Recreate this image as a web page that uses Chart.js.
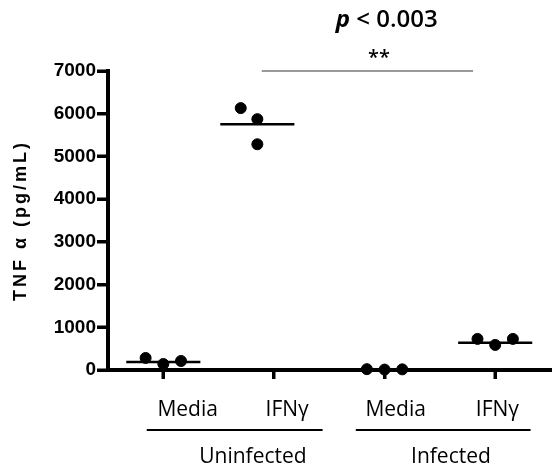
<!DOCTYPE html>
<html>
<head>
<meta charset="utf-8">
<script src="https://cdn.jsdelivr.net/npm/chart.js@4/dist/chart.umd.min.js"></script>
<style>
  html, body { margin: 0; padding: 0; background: #fff; }
  #wrap { width: 557px; height: 472px; }
</style>
</head>
<body>
<div id="wrap"><canvas id="tnfChart"></canvas></div>
<script>
// values (pg/mL)
const treatments = ['Media', 'IFNγ', 'Media', 'IFNγ'];
const infection = ['Uninfected', 'Infected'];
const uninfMedia = [282, 141, 211];
const uninfIFN = [6131, 5873, 5285];
const infMedia = [20, 10, 15];
const infIFN = [728, 587, 728];
const groupMeans = [190, 5755, 20, 640];
const yTicks = [0, 1000, 2000, 3000, 4000, 5000, 6000, 7000];
const yTitle = 'TNF α (pg/mL)';
const pText = 'p < 0.003';
const starsText = '**';

const groups = [uninfMedia, uninfIFN, infMedia, infIFN];
// where each group sits along x, and the spread of its dots
const centers = [0.5, 1.35, 2.5, 3.5];
const spread = [[-0.16, 0, 0.16], [-0.15, 0, 0], [-0.16, 0, 0.16], [-0.16, 0, 0.16]];
const xTickAt = [0.5, 1.5, 2.5, 3.5];

const datasets = [];
groups.forEach((vals, g) => {
  datasets.push({
    data: [
      { x: centers[g] - 0.335, y: groupMeans[g] },
      { x: centers[g] + 0.335, y: groupMeans[g] }
    ],
    showLine: true,
    borderColor: '#000',
    borderWidth: 2.5,
    pointRadius: 0,
    clip: false
  });
  datasets.push({
    data: vals.map((v, i) => ({ x: centers[g] + spread[g][i], y: v })),
    backgroundColor: '#000',
    borderColor: '#000',
    pointRadius: 5.5,
    clip: false
  });
});
// significance bar
datasets.push({
  data: [{ x: 1.39, y: 7000 }, { x: 3.3, y: 7000 }],
  showLine: true,
  borderColor: '#777',
  borderWidth: 1.5,
  pointRadius: 0,
  clip: false
});

const labelsPlugin = {
  id: 'labelsPlugin',
  afterDraw(chart) {
    const ctx = chart.ctx;
    const xs = chart.scales.x;
    const ys = chart.scales.y;
    const area = chart.chartArea;
    const bottom = area.bottom;
    ctx.save();
    // tick marks
    ctx.fillStyle = '#000';
    yTicks.forEach(v => {
      const py = Math.round(ys.getPixelForValue(v));
      ctx.fillRect(area.left - 11, py - 1.5, 11, 3);
    });
    xTickAt.forEach(v => {
      const px = Math.round(xs.getPixelForValue(v));
      ctx.fillRect(px - 1.5, bottom, 3, 9);
    });

    // y title, rotated
    ctx.save();
    ctx.translate(21, (area.top + area.bottom) / 2);
    ctx.rotate(-Math.PI / 2);
    ctx.font = 'bold 18px "Liberation Sans"';
    ctx.letterSpacing = '3px';
    ctx.textAlign = 'center';
    ctx.textBaseline = 'middle';
    ctx.fillText(yTitle, 0, 0);
    ctx.restore();

    ctx.textAlign = 'center';
    ctx.textBaseline = 'middle';
    ctx.font = '21px "Open Sans"';
    const labelAt = [0.72, 1.62, 2.6, 3.52];
    treatments.forEach((t, i) => ctx.fillText(t, xs.getPixelForValue(labelAt[i]), bottom + 40));
    const groupAt = [1.31, 3.1];
    const lineSpan = [[0.35, 1.94], [2.24, 3.82]];
    ctx.strokeStyle = '#000';
    infection.forEach((t, i) => {
      ctx.fillText(t, xs.getPixelForValue(groupAt[i]), bottom + 87);
      ctx.beginPath();
      ctx.lineWidth = 2;
      ctx.moveTo(xs.getPixelForValue(lineSpan[i][0]), bottom + 60);
      ctx.lineTo(xs.getPixelForValue(lineSpan[i][1]), bottom + 60);
      ctx.stroke();
    });
    // p-value and stars
    ctx.font = '600 20px "Open Sans"';
    ctx.fillText(starsText, xs.getPixelForValue(2.45), area.top - 13);
    const parts = pText.split(' ');
    const rest = ' ' + parts.slice(1).join(' ');
    ctx.font = 'italic 700 24px "Open Sans"';
    const pw = ctx.measureText(parts[0]).width;
    ctx.font = '600 24px "Open Sans"';
    const rw = ctx.measureText(rest).width;
    const cx = xs.getPixelForValue(2.52);
    const startX = cx - (pw + rw) / 2;
    ctx.textAlign = 'left';
    ctx.font = 'italic 700 24px "Open Sans"';
    ctx.fillText(parts[0], startX, 20);
    ctx.font = '600 24px "Open Sans"';
    ctx.fillText(rest, startX + pw, 20);
    ctx.restore();
  }
};

new Chart(document.getElementById('tnfChart'), {
  type: 'scatter',
  data: { datasets },
  options: {
    responsive: true,
    maintainAspectRatio: false,
    animation: false,
    layout: { padding: { top: 71, right: 2, left: 0, bottom: 0 } },
    plugins: { legend: { display: false }, tooltip: { enabled: false } },
    scales: {
      x: {
        type: 'linear',
        min: 0,
        max: 4,
        afterBuildTicks: s => { s.ticks = xTickAt.map(v => ({ value: v })); },
        afterFit: s => { s.height = 102; },
        ticks: { display: false },
        grid: { drawOnChartArea: false, tickLength: 9, lineWidth: 3, color: '#000' },
        border: { color: '#000', width: 4 }
      },
      y: {
        min: 0,
        max: 7000,
        afterBuildTicks: s => { s.ticks = yTicks.map(v => ({ value: v })); },
        afterFit: s => { s.width = 108; },
        ticks: {
          color: '#000',
          padding: 1,
          callback: v => String(v),
          font: { family: 'Liberation Sans', size: 19, weight: 'bold' }
        },
        grid: { drawOnChartArea: false, tickLength: 11, lineWidth: 3, color: '#000' },
        border: { color: '#000', width: 4 }
      }
    }
  },
  plugins: [labelsPlugin]
});
</script>
</body>
</html>
